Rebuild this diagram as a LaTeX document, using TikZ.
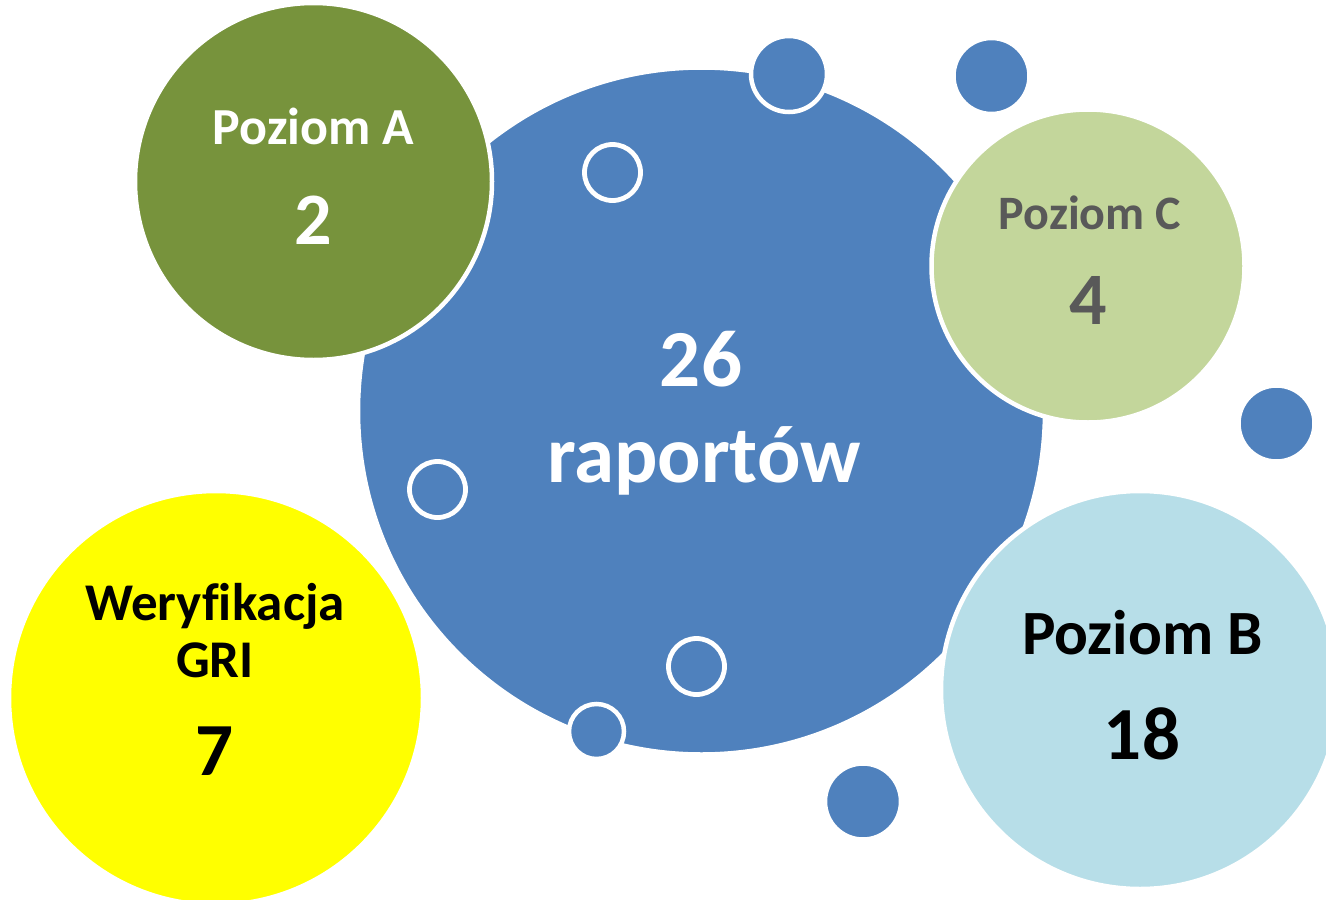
\documentclass[tikz,border=0pt]{standalone}
\usepackage{fontspec}
\setmainfont{Carlito}[Ligatures=NoCommon]
\definecolor{bigblue}{HTML}{4F81BD}
\definecolor{greenA}{HTML}{77933C}
\definecolor{greenC}{HTML}{C3D69B}
\definecolor{blueB}{HTML}{B7DEE8}
\definecolor{yellowG}{HTML}{FFFF00}
\definecolor{grayT}{HTML}{595959}
\tikzset{
  bub/.style={draw=white, line width=4.5pt},
  ring/.style={draw=white, line width=4.8pt},
  lbl/.style={anchor=base, inner sep=0pt, font=\bfseries},
}
\newcommand{\fsz}[1]{\fontsize{#1}{#1}\selectfont\bfseries}
\begin{document}
\begin{tikzpicture}[x=1pt,y=-1pt]
\clip (0,0) rectangle (1326,900);
\fill[white] (0,0) rectangle (1326,900);
% centres
\coordinate (big) at (701.5,411);
\coordinate (lvA) at (313.5,181.5);
\coordinate (lvC) at (1088,266);
\coordinate (lvB) at (1140,690);
\coordinate (gri) at (216,698);
\coordinate (d1) at (789,74);
\coordinate (d2) at (991.5,76);
\coordinate (d3) at (1276.5,423.5);
\coordinate (d4) at (863,801.5);
\coordinate (d5) at (596.5,731.5);
\coordinate (h1) at (612.5,172.5);
\coordinate (h2) at (437.5,489.5);
\coordinate (h3) at (696.5,666.5);
% big circle
\filldraw[bub, fill=bigblue] (big) circle[radius=343.5];
% level circles
\filldraw[bub, fill=greenA] (lvA) circle[radius=178.5];
\filldraw[bub, fill=greenC] (lvC) circle[radius=156.5];
\filldraw[bub, fill=blueB] (lvB) circle[radius=199];
\filldraw[bub, fill=yellowG] (gri) circle[radius=207];
% small filled dots
\filldraw[bub, fill=bigblue] (d1) circle[radius=38];
\filldraw[bub, fill=bigblue] (d2) circle[radius=38];
\filldraw[bub, fill=bigblue] (d3) circle[radius=38];
\filldraw[bub, fill=bigblue] (d4) circle[radius=38];
\filldraw[bub, fill=bigblue] (d5) circle[radius=27.5];
% hollow rings
\draw[ring] (h1) circle[radius=28];
\draw[ring] (h2) circle[radius=28];
\draw[ring] (h3) circle[radius=28];
% texts
\node[lbl, text=white] (tA1) at (313.5,144) {\fsz{52}Poziom A};
\node[lbl, text=white] (tA2) at (313,244) {\fsz{74}2};
\node[lbl, text=grayT] (tC1) at (1090,229) {\fsz{48}Poziom C};
\node[lbl, text=grayT] (tC2) at (1088,324) {\fsz{74}4};
\node[lbl, text=black] (tB1) at (1142.5,654) {\fsz{63}Poziom B};
\node[lbl, text=black] (tB2) at (1142,759) {\fsz{75}18};
\node[lbl, text=black] (tG1) at (215,620) {\fsz{53}Weryfikacja};
\node[lbl, text=black] (tG2) at (215,677) {\fsz{53}GRI};
\node[lbl, text=black] (tG3) at (215,775) {\fsz{75}7};
\node[lbl, text=white] (tM1) at (701,386) {\fsz{81}26};
\node[lbl, text=white] (tM2) at (704,482) {\fsz{81}raportów};
\end{tikzpicture}
\end{document}
